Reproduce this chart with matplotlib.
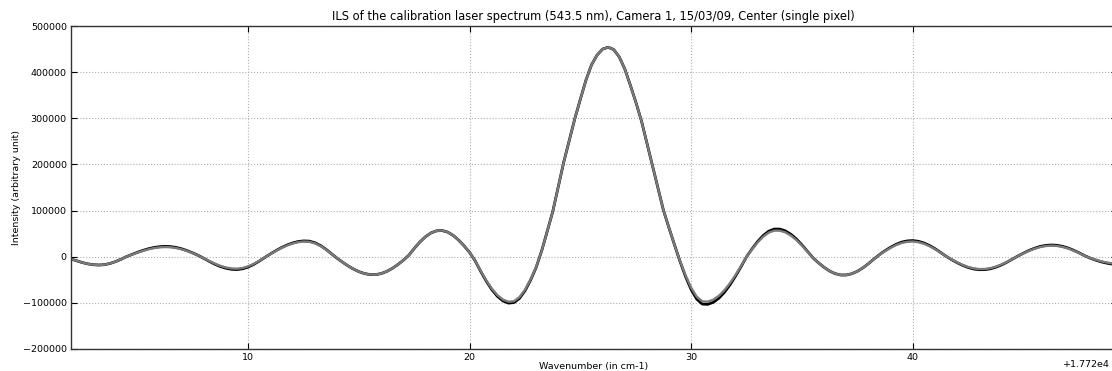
"""
ILS (instrument line shape) of the calibration laser spectrum, 543.5 nm,
Camera 1, 15/03/09, centre pixel. Two profiles overlaid (black / grey).
"""

import matplotlib

matplotlib.use("Agg")
import matplotlib.pyplot as plt
import matplotlib.ticker as mticker
import numpy as np


# ---------------------------------------------------------------------------
# Data (intensity in thousands)
# ---------------------------------------------------------------------------

WN_BASE = 17720.0
WN_START = 2.0
WN_STEP = 0.25

ils_grey = [
    -5, -8.8, -12.5, -15.4, -17.3, -18, -17.3, -14.8, -10.8, -5.7,
    0, 4.6, 8.9, 12.8, 16.2, 18.7, 20.3, 21, 20.5, 18.8,
    16, 12.1, 7.6, 2.5, -3.4, -9.6, -15.2, -20, -23.4, -25.5,
    -26, -24.4, -20.9, -15.5, -8.9, -1.5, 5.7, 12.6, 18.9, 24.3,
    28.6, 31.5, 32.9, 32.5, 29.3, 23.6, 15.8, 6.6, -2.8, -11.5,
    -19.6, -26.7, -32.4, -36.5, -38.7, -38.8, -36.6, -32, -25.4, -17.2,
    -7.8, 3.1, 18.1, 31.8, 43.2, 51.5, 56.1, 56.8, 53.4, 46.3,
    36, 23.3, 9, -9, -31.2, -51.6, -69.3, -83.3, -92.9, -97.6,
    -96.5, -87.5, -71.3, -49, -22.5, 13, 55, 98, 152, 206,
    253, 300, 342, 383, 416, 437, 450, 454, 449, 433,
    407, 372, 335, 295, 246, 196, 148, 100, 62, 25,
    -10.3, -41, -67.4, -86.7, -96.8, -97.4, -93.1, -84.7, -72.7, -57.5,
    -39.7, -20.3, 0, 16.2, 31.1, 43.4, 52.2, 56.5, 56.4, 52.8,
    45.8, 36.1, 24.1, 10.7, -2.6, -13.4, -23.1, -31.1, -36.7, -39.6,
    -39.6, -36.9, -31.6, -24.2, -15.1, -5, 4.3, 12.2, 19.3, 25.3,
    29.8, 32.3, 33, 31.5, 28.2, 23.1, 16.6, 9, 1, -5.9,
    -12.2, -17.7, -22.2, -25.3, -26.8, -26.7, -25, -21.7, -17.1, -11.4,
    -5, 1.4, 7.3, 12.7, 17.3, 20.9, 23.1, 24, 23.4, 21.3,
    18, 13.5, 8.2, 2.4, -2.5, -6.5, -10, -12.5, -14.5,
]

ils_black = [
    -5, -8.8, -12.5, -15.4, -17.3, -18, -17.3, -14.8, -10.8, -5.7,
    0, 4.9, 9.5, 13.7, 17.3, 20, 21.7, 22.5, 21.9, 20.1,
    17.1, 12.9, 8.1, 2.7, -3.6, -10.3, -16.3, -21.4, -25, -27.3,
    -27.8, -26.1, -22.4, -16.6, -9.5, -1.6, 5.9, 13.1, 19.7, 25.3,
    29.7, 32.8, 34.2, 33.8, 30.5, 24.5, 16.4, 6.9, -2.8, -11.5,
    -19.6, -26.7, -32.4, -36.5, -38.7, -38.8, -36.6, -32, -25.4, -17.2,
    -7.8, 3.1, 18.1, 31.8, 43.2, 51.5, 56.1, 56.8, 53.4, 46.3,
    36, 23.3, 9, -9.3, -32.1, -53.1, -71.4, -85.8, -95.7, -100.5,
    -99.4, -90.1, -73.4, -50.5, -23.2, 13, 55, 98, 152, 206,
    253, 300, 342, 383, 416, 437, 450, 454, 449, 433,
    407, 372, 335, 295, 246, 196, 148, 100, 62, 25,
    -10.9, -43.5, -71.4, -91.9, -102.6, -103.2, -98.7, -89.8, -77.1, -60.9,
    -42.1, -21.5, 0, 17.2, 33, 46, 55.3, 59.9, 59.8, 56,
    48.5, 38.3, 25.5, 11.3, -2.6, -13.4, -23.1, -31.1, -36.7, -39.6,
    -39.6, -36.9, -31.6, -24.2, -15.1, -5, 4.6, 12.9, 20.5, 26.8,
    31.6, 34.2, 35, 33.4, 29.9, 24.5, 17.6, 9.5, 1.1, -6.2,
    -12.8, -18.6, -23.3, -26.6, -28.1, -28, -26.3, -22.8, -18, -12,
    -5.3, 1.5, 7.7, 13.5, 18.3, 22.2, 24.5, 25.4, 24.8, 22.6,
    19.1, 14.3, 8.7, 2.5, -2.8, -7.2, -11, -13.8, -16,
]

TITLE = "ILS of the calibration laser spectrum (543.5 nm), Camera 1, 15/03/09, Center (single pixel)"
XLABEL = "Wavenumber (in cm-1)"
YLABEL = "Intensity (arbitrary unit)"
OFFSET_LABEL = "+1.772e4"


# ---------------------------------------------------------------------------
# Plot
# ---------------------------------------------------------------------------


def main() -> None:
    grey = np.asarray(ils_grey, dtype=float) * 1000.0
    black = np.asarray(ils_black, dtype=float) * 1000.0
    wn = WN_BASE + WN_START + WN_STEP * np.arange(grey.size)

    fig = plt.figure(figsize=(11.12, 3.71), dpi=100, facecolor="white")
    # axes run slightly past the right edge (reference image is cropped there)
    ax = fig.add_axes([71 / 1112, 22 / 371, 1045.5 / 1112, 323 / 371])

    ax.plot(wn, black, color="black", lw=2.0)
    ax.plot(wn, grey, color="#7a7a7a", lw=1.7)

    ax.set_xlim(WN_BASE + 2.0, WN_BASE + 49.2)
    ax.set_ylim(-200000, 500000)
    ax.set_yticks(np.arange(-200000, 500001, 100000))
    ax.set_xticks(WN_BASE + np.array([10, 20, 30, 40]))

    # tick labels relative to WN_BASE; the offset is written in by hand so it
    # stays inside the (cropped) canvas
    fmt = mticker.ScalarFormatter(useOffset=WN_BASE)
    ax.xaxis.set_major_formatter(fmt)
    ax.xaxis.get_offset_text().set_visible(False)
    fig.text(1110 / 1112, 2 / 371, OFFSET_LABEL, ha="right", va="bottom",
             fontsize=6.8)

    ax.grid(True, color="#b0b0b0", linestyle=":", linewidth=0.8)
    ax.tick_params(direction="in", labelsize=6.8, length=4,
                   top=True, right=True, pad=3)
    for sp in ax.spines.values():
        sp.set_color("#333333")
        sp.set_linewidth(1.0)

    ax.set_title(TITLE, fontsize=8.3, pad=4)
    ax.set_xlabel(XLABEL, fontsize=6.8, labelpad=0)
    ax.set_ylabel(YLABEL, fontsize=6.8, labelpad=1)

    fig.savefig("out.png", dpi=100, facecolor="white")
    plt.close(fig)


if __name__ == "__main__":
    main()
